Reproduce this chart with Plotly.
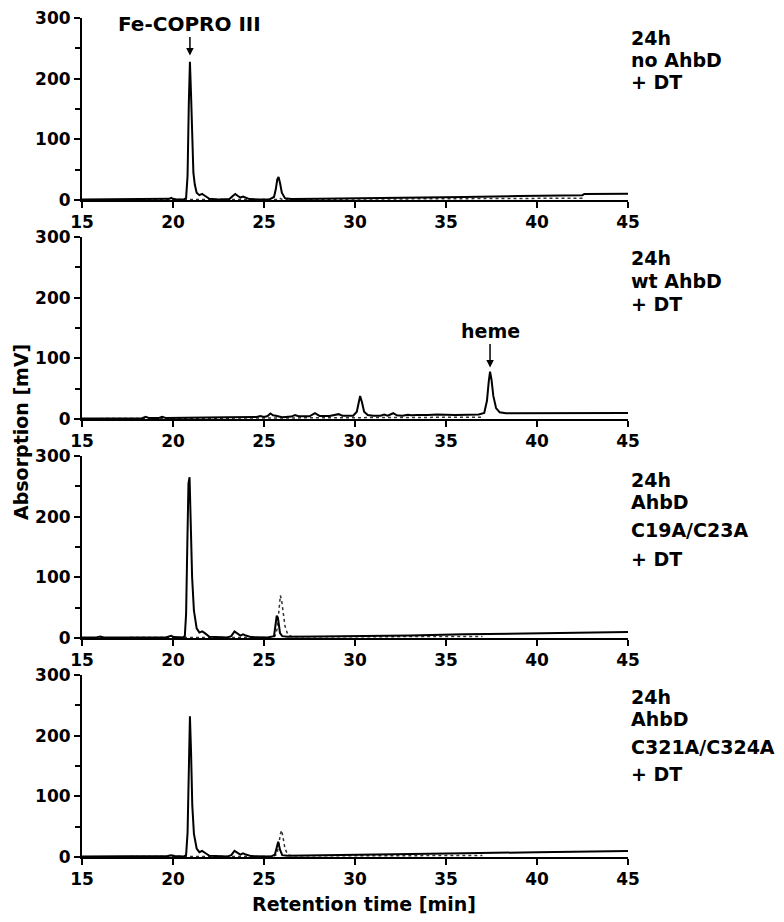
import plotly.graph_objects as go
from plotly.subplots import make_subplots

# retention time axis
X_RANGE = [15, 45]
X_TICKS = [15, 20, 25, 30, 35, 40, 45]
Y_TICKS = [0, 100, 200, 300]

# panel labels (right side)
PANEL_LABELS = [
    ["24h", "no AhbD", "+ DT"],
    ["24h", "wt AhbD", "+ DT"],
    ["24h", "AhbD", "C19A/C23A", "+ DT"],
    ["24h", "AhbD", "C321A/C324A", "+ DT"],
]

# panel 1: 24h no AhbD + DT
p1_solid_t = [15, 17, 19.6, 19.8, 19.9, 20.0, 20.2, 20.6, 20.72, 20.8, 20.87, 20.93, 20.99, 21.05,
              21.12, 21.2, 21.3, 21.45, 21.6, 21.75, 22.0, 22.5, 23.1, 23.3, 23.42, 23.55, 23.7,
              23.85, 24.0, 24.2, 24.6, 25.3, 25.55, 25.65, 25.73, 25.8, 25.88, 25.98, 26.15, 26.5,
              28, 30, 33, 36, 39, 42.5, 42.6, 45]
p1_solid_v = [1, 1, 1, 2, 3.5, 2, 1, 1, 3, 40, 160, 228, 175, 90,
              45, 25, 12, 8, 10, 7, 2, 1, 1.5, 7, 10, 7, 4,
              5.5, 4, 1.5, 1, 1, 5, 18, 34, 38, 28, 12, 3, 1.5,
              2, 2.5, 3.5, 5, 6.5, 8, 10, 10.5]
p1_dot_t = [15, 20, 20.9, 21.0, 21.3, 25.7, 25.85, 26.0, 30, 35, 42.6]
p1_dot_v = [0.5, 0.5, 1, 1.5, 0.8, 1, 3, 1, 1.5, 2, 3]

# panel 2: 24h wt AhbD + DT
p2_solid_t = [15, 17, 17.2, 17.4, 18.3, 18.5, 18.7, 19.2, 19.4, 19.6, 19.9, 20.1, 20.3, 21.3, 21.5,
              21.7, 23, 24.6, 24.8, 25.0, 25.2, 25.35, 25.5, 25.65, 25.8, 26.0, 26.5, 26.7, 26.9,
              27.5, 27.8, 28.05, 28.6, 28.9, 29.1, 29.3, 29.9, 30.1, 30.2, 30.28, 30.38, 30.5,
              30.7, 31.0, 31.4, 31.6, 31.8, 32.0, 32.1, 32.3, 32.6, 32.9, 33.1, 33.4, 33.7, 34.0,
              34.5, 35.0, 35.5, 36.2, 36.8, 37.1, 37.25, 37.35, 37.42, 37.5, 37.6, 37.75, 37.95,
              38.3, 39, 41, 45]
p2_solid_v = [1, 1, 1.8, 1, 1.2, 3.5, 1.5, 1.5, 3.5, 1.8, 1.8, 3, 2, 2.2, 3,
              2.4, 3, 3.5, 5, 3.5, 5, 9, 6, 5.5, 4, 3, 4, 6.5, 4.5,
              4.5, 9.5, 5, 5, 6.5, 8, 5.5, 5.5, 12, 28, 38, 28, 12,
              6.5, 5.5, 5.5, 7.5, 5.5, 8, 9.5, 6, 5.5, 7, 6, 6.5, 6, 6.5,
              7.5, 6.5, 6.5, 7, 7.5, 10, 30, 62, 78, 65, 38, 18, 11,
              9.5, 9.5, 10, 10]
p2_dot_t = [15, 20, 25, 26, 30, 37]
p2_dot_v = [0.5, 1, 1.5, 2, 2.5, 3]

# panel 3: 24h AhbD C19A/C23A + DT
p3_solid_t = [15, 15.8, 16.0, 16.2, 19.6, 19.8, 19.9, 20.05, 20.55, 20.65, 20.72, 20.79, 20.85, 20.91,
              20.97, 21.05, 21.15, 21.3, 21.45, 21.6, 21.75, 22.0, 23.0, 23.2, 23.38, 23.55, 23.7,
              23.85, 24.0, 24.3, 24.8, 25.0, 25.2, 25.55, 25.62, 25.7, 25.78, 25.88, 26.0, 26.3,
              28, 30, 33, 36, 40, 45]
p3_solid_v = [1, 1, 2.5, 1, 1, 2.5, 3.5, 1.5, 1, 3, 40, 160, 255, 265,
              200, 100, 45, 16, 9, 11, 8, 2, 1, 3, 11, 7, 4,
              6, 4, 1.5, 1, 2, 1, 3, 20, 37, 30, 8, 3, 2,
              2.5, 3, 4, 6, 8, 10]
p3_dot_t = [15, 20, 20.9, 21.2, 25.4, 25.6, 25.72, 25.82, 25.9, 25.97, 26.05, 26.15, 26.3, 26.5,
            27, 30, 37]
p3_dot_v = [0.5, 0.5, 1, 0.5, 1, 3, 15, 45, 70, 62, 40, 20, 6, 2.5,
            2, 2, 2.5]

# panel 4: 24h AhbD C321A/C324A + DT
p4_solid_t = [15, 19.1, 19.3, 19.5, 19.7, 19.9, 20.1, 20.6, 20.72, 20.8, 20.87, 20.93, 20.99, 21.06,
              21.15, 21.3, 21.45, 21.6, 21.75, 22.0, 23.0, 23.2, 23.38, 23.55, 23.7, 23.85, 24.0,
              24.3, 25.4, 25.6, 25.7, 25.78, 25.88, 26.0, 26.3, 28, 30, 33, 36, 40, 45]
p4_solid_v = [1, 1, 2, 1, 1.5, 3, 1.5, 1, 3, 40, 150, 232, 175, 85,
              38, 14, 8, 10, 7, 2, 1, 3, 10, 7, 4, 6, 4,
              1.5, 1, 4, 18, 25, 12, 3, 2, 2.5, 3, 4, 6, 8, 10]
p4_dot_t = [15, 20, 20.9, 21.2, 25.5, 25.7, 25.8, 25.9, 25.97, 26.05, 26.15, 26.3, 26.5, 30, 37]
p4_dot_v = [0.5, 0.5, 1, 0.5, 1, 4, 18, 38, 44, 32, 14, 4, 2, 2, 2.5]

SOLID = [(p1_solid_t, p1_solid_v), (p2_solid_t, p2_solid_v), (p3_solid_t, p3_solid_v), (p4_solid_t, p4_solid_v)]
DOTTED = [(p1_dot_t, p1_dot_v), (p2_dot_t, p2_dot_v), (p3_dot_t, p3_dot_v), (p4_dot_t, p4_dot_v)]

# the page body adds an 8px margin, so the figure is made a bit smaller
# (and short enough that no scrollbar shows up)
OFF = 8
W, H = 784 - OFF, 922 - 2 * OFF
FONT = "DejaVu Sans"


def px_x(p):
    # window pixel -> paper x
    return (p - OFF) / W


def px_y(p):
    # window pixel -> paper y
    return 1 - (p - OFF) / H


fig = make_subplots(rows=4, cols=1)

for i in range(4):
    row = i + 1
    fig.add_trace(go.Scatter(x=DOTTED[i][0], y=DOTTED[i][1], mode="lines",
                             line=dict(color="#333333", width=1.5, dash="dot"),
                             showlegend=False), row=row, col=1)
    fig.add_trace(go.Scatter(x=SOLID[i][0], y=SOLID[i][1], mode="lines",
                             line=dict(color="black", width=2),
                             showlegend=False), row=row, col=1)

    # panel placement in window pixels: top (y=300) and bottom (y=0)
    top = 18 + 219 * i
    bottom = top + 182
    axis_font = dict(family=FONT, size=17, color="black", weight="bold")
    fig.update_xaxes(domain=[px_x(82), px_x(628)], range=X_RANGE, tickvals=X_TICKS,
                     showline=True, linecolor="black", linewidth=2, ticks="outside",
                     ticklen=6, tickwidth=2, tickcolor="black", tickfont=axis_font,
                     ticklabeloverflow="allow",
                     showgrid=False, zeroline=False, automargin=False, row=row, col=1)
    fig.update_yaxes(domain=[px_y(bottom), px_y(top)], range=[0, 300], tickvals=Y_TICKS,
                     showline=True, linecolor="black", linewidth=2, ticks="outside",
                     ticklen=6, tickwidth=2, tickcolor="black", tickfont=axis_font,
                     ticklabeloverflow="allow",
                     minor=dict(dtick=50, ticks="outside", ticklen=5, tickwidth=2, tickcolor="black"),
                     showgrid=False, zeroline=False, automargin=False, row=row, col=1)

annotations = []
text_font = dict(family=FONT, size=19, color="black", weight="bold")

# right side labels, line centres in window pixels
label_rows = [[38, 60, 82], [258, 281, 304], [480, 502, 530, 559], [697, 719, 747, 774]]
for labels, ys in zip(PANEL_LABELS, label_rows):
    for txt, yy in zip(labels, ys):
        annotations.append(dict(text=txt, xref="paper", yref="paper", x=px_x(629), y=px_y(yy),
                                xanchor="left", yanchor="middle", showarrow=False, font=text_font))

# peak labels with arrows
annotations.append(dict(text="Fe-COPRO III", xref="x", yref="y", x=20.93, y=238,
                        ax=0, ay=-32, showarrow=True, arrowhead=2, arrowsize=1, arrowwidth=1.5,
                        arrowcolor="black", font=dict(family=FONT, size=20, color="black", weight="bold")))
annotations.append(dict(text="heme", xref="x2", yref="y2", x=37.42, y=85,
                        ax=0, ay=-36, showarrow=True, arrowhead=2, arrowsize=1, arrowwidth=1.5,
                        arrowcolor="black", font=text_font))

# axis titles
title_font = dict(family=FONT, size=19, color="black", weight="bold")
annotations.append(dict(text="Absorption [mV]", xref="paper", yref="paper", x=px_x(21), y=px_y(432),
                        xanchor="center", yanchor="middle", textangle=-90, showarrow=False,
                        font=title_font))
annotations.append(dict(text="Retention time [min]", xref="paper", yref="paper", x=px_x(364), y=px_y(904),
                        xanchor="center", yanchor="middle", showarrow=False, font=title_font))

fig.update_layout(width=W, height=H, margin=dict(l=0, r=0, t=0, b=0, autoexpand=False),
                  plot_bgcolor="white", paper_bgcolor="white", annotations=annotations)

fig.write_html("out.html")
